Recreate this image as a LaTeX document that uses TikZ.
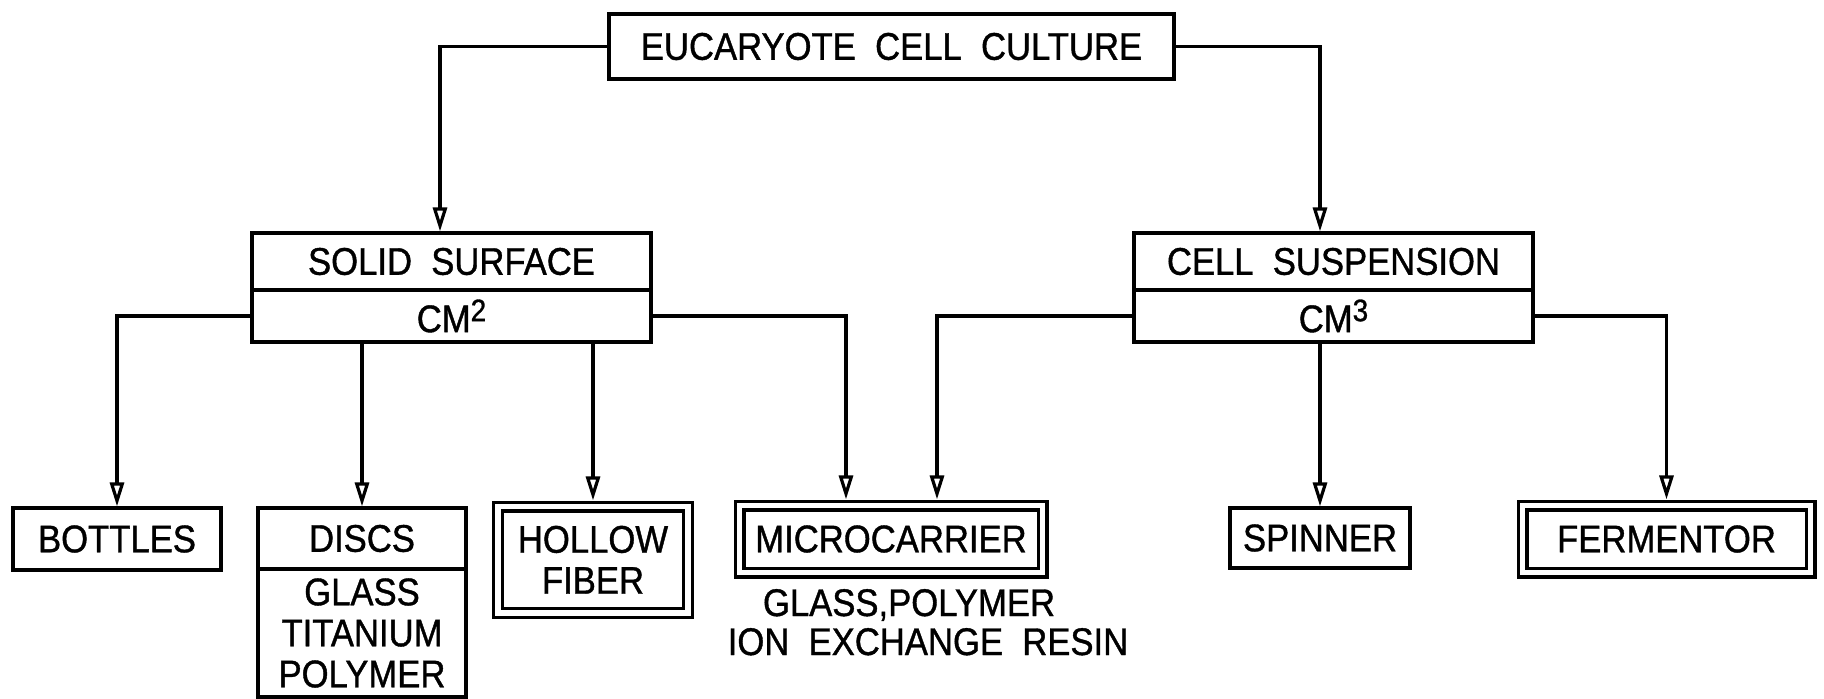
\documentclass[tikz,border=0pt]{standalone}
\usepackage{fontspec}
\setmainfont[FakeStretch=0.9,FakeBold=1]{Liberation Sans}
\usetikzlibrary{arrows.meta}
\begin{document}
\begin{tikzpicture}[x=1pt,y=-1pt,
  every node/.style={font=\fontsize{38.5}{41}\selectfont},
  box/.style={draw, line width=3.2pt, inner sep=0pt, align=center},
  dbox/.style={draw, line width=3.2pt, double, double distance=5.6pt, inner sep=0pt, align=center},
  conn/.style={line width=3.2pt, -{Triangle[open,length=24pt,width=14pt]}},
  lbl/.style={inner sep=0pt, align=center}]
\useasboundingbox (0,0) rectangle (1824,699);
\fill[white] (0,0) rectangle (1824,699);
% top
\node[box, minimum width=565pt, minimum height=65pt] (top) at (891.5,46.5) {EUCARYOTE\ \ CELL\ \ CULTURE};
% second level
\node[box, minimum width=399pt, minimum height=57pt] (solidtop) at (451.5,261.5) {SOLID\ \ SURFACE};
\node[box, minimum width=399pt, minimum height=52pt] (solidbot) at (451.5,316) {CM\raisebox{11pt}{\fontsize{31}{31}\selectfont 2}};
\node[box, minimum width=399pt, minimum height=57pt] (celltop) at (1333.5,261.5) {CELL\ \ SUSPENSION};
\node[box, minimum width=399pt, minimum height=52pt] (cellbot) at (1333.5,316) {CM\raisebox{11pt}{\fontsize{31}{31}\selectfont 3}};
% bottom level
\node[box, minimum width=208pt, minimum height=62pt] (bottles) at (117,539) {BOTTLES};
\node[box, minimum width=208pt, minimum height=61pt] (discstop) at (362,538.5) {DISCS};
\node[box, minimum width=208pt, minimum height=128pt] (discsbot) at (362,633) {GLASS\\TITANIUM\\POLYMER};
\node[dbox, minimum width=190pt, minimum height=106.5pt] (hollow) at (593,559.75) {HOLLOW\\FIBER};
\node[dbox, minimum width=303pt, minimum height=67pt] (micro) at (891,539) {MICROCARRIER};
\node[box, minimum width=180pt, minimum height=60pt] (spinner) at (1320,538) {SPINNER};
\node[dbox, minimum width=288pt, minimum height=67pt] (ferm) at (1666.5,539) {FERMENTOR};
\node[lbl, anchor=base] (mat1) at (909,616) {GLASS,POLYMER};
\node[lbl, anchor=base] (mat2) at (928,655) {ION\ \ EXCHANGE\ \ RESIN};
% connectors
\draw[conn] (top.west) -| ([xshift=-11.5pt]solidtop.north);
\draw[conn] (top.east) -| ([xshift=-13.5pt]celltop.north);
\draw[conn] (solidbot.west) -| (bottles.north);
\draw[conn] (solidbot.south -| discstop.north) -- (discstop.north);
\draw[conn] (solidbot.south -| hollow.north) -- ([yshift=4.5pt]hollow.north);
\draw[conn] (solidbot.east) -| ([xshift=-45pt,yshift=4.5pt]micro.north);
\draw[conn] (cellbot.west) -| ([xshift=46pt,yshift=4.5pt]micro.north);
\draw[conn] (cellbot.south -| spinner.north) -- (spinner.north);
\draw[conn] (cellbot.east) -| ([yshift=4.5pt]ferm.north);
\end{tikzpicture}
\end{document}
